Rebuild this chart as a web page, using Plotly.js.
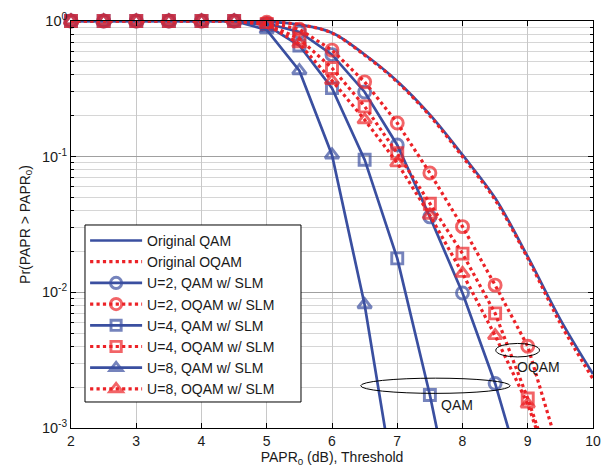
<!DOCTYPE html>
<html>
<head>
<meta charset="utf-8">
<script src="https://cdn.plot.ly/plotly-3.0.1.min.js"></script>
<style>html,body{margin:0;padding:0;background:#fff}#chart{width:606px;height:470px}</style>
</head>
<body>
<div id="chart"></div>
<script>
// ---- data ----
var xOrig = [2,2.5,3,3.5,4,4.5,5,5.5,6,6.5,7,7.5,8,8.5,9,9.5,10];
var yOrigQAM  = [1,1,1,1,1,1,0.99,0.94,0.82,0.566,0.36,0.204,0.103,0.0495,0.0183,0.0063,0.0025];
var yOrigOQAM = [1,1,1,1,1,1,0.99,0.94,0.815,0.56,0.355,0.2,0.1,0.048,0.0178,0.0059,0.0023];

var xU2QAM  = [2,2.5,3,3.5,4,4.5,5,5.5,6,6.5,7,7.5,8,8.5,9];
var yU2QAM  = [1,1,1,1,1,1,0.96,0.83,0.565,0.30,0.122,0.036,0.0099,0.00213,0.00032];
var xU2OQAM = [2,2.5,3,3.5,4,4.5,5,5.5,6,6.5,7,7.5,8,8.5,9,9.5];
var yU2OQAM = [1,1,1,1,1,1,0.98,0.87,0.61,0.356,0.177,0.0757,0.0305,0.0113,0.0040,0.00062];

var xU4QAM  = [2,2.5,3,3.5,4,4.5,5,5.5,6,6.5,7,7.5,8];
var yU4QAM  = [1,1,1,1,1,1,0.93,0.66,0.32,0.095,0.0178,0.00175,0.00012];
var xU4OQAM = [2,2.5,3,3.5,4,4.5,5,5.5,6,6.5,7,7.5,8,8.5,9,9.5];
var yU4OQAM = [1,1,1,1,1,1,0.95,0.74,0.45,0.235,0.106,0.045,0.0193,0.0070,0.00165,0.00032];

var xU8QAM  = [2,2.5,3,3.5,4,4.5,5,5.5,6,6.5,7];
var yU8QAM  = [1,1,1,1,1,1,0.86,0.43,0.103,0.0081,0.00028];
var xU8OQAM = [2,2.5,3,3.5,4,4.5,5,5.5,6,6.5,7,7.5,8,8.5,9,9.5];
var yU8OQAM = [1,1,1,1,1,1,0.94,0.68,0.364,0.187,0.090,0.037,0.0138,0.0048,0.0015,0.0003];

var seriesNames = ['Original QAM','Original OQAM','U=2, QAM w/ SLM','U=2, OQAM w/ SLM',
                   'U=4, QAM w/ SLM','U=4, OQAM w/ SLM','U=8, QAM w/ SLM','U=8, OQAM w/ SLM'];
var yTickVals = [0.001, 0.01, 0.1, 1];
var yTickText = ['10<sup>-3</sup>','10<sup>-2</sup>','10<sup>-1</sup>','10<sup>0</sup>'];
var xTickVals = [2,3,4,5,6,7,8,9,10];

// ---- styling ----
var BLUE = '#3a4fa0', RED = '#ec2227';
var YMIN = 1e-3;
var minorVals = [];
[0.001,0.01,0.1].forEach(function(d){ for (var k=2;k<=9;k++) minorVals.push(d*k); });

function sizesFor(ys, s){ return ys.map(function(v){ return v >= YMIN*0.999 ? s : 0; }); }

function mk(x, y, name, color, dashed, symbol, msize){
  var t = {
    x: x, y: y, name: name, type: 'scatter',
    mode: symbol ? 'lines+markers' : 'lines',
    cliponaxis: false,
    line: {color: color, width: dashed ? 3.2 : 2.7, dash: dashed ? 'dot' : 'solid'}
  };
  if (symbol) {
    t.marker = {symbol: symbol, size: sizesFor(y, msize), color: color,
                line: {color: color, width: 2.9}};
  }
  return t;
}

var traces = [
  Object.assign(mk(xOrig, yOrigQAM, seriesNames[0], BLUE, false, null), {cliponaxis:true}),
  Object.assign(mk(xOrig, yOrigOQAM, seriesNames[1], RED, true, null), {cliponaxis:true}),
  mk(xU2QAM, yU2QAM, seriesNames[2], BLUE, false, 'circle-open', 12),
  mk(xU2OQAM, yU2OQAM, seriesNames[3], RED, true, 'circle-open', 12),
  mk(xU4QAM, yU4QAM, seriesNames[4], BLUE, false, 'square-open', 11),
  mk(xU4OQAM, yU4OQAM, seriesNames[5], RED, true, 'square-open', 11),
  mk(xU8QAM, yU8QAM, seriesNames[6], BLUE, false, 'triangle-up-open', 12),
  mk(xU8OQAM, yU8OQAM, seriesNames[7], RED, true, 'triangle-up-open', 12)
];
traces[0].line.shape = 'spline';
traces[1].line.shape = 'spline';

var FONT = 'Liberation Sans, Arial, Helvetica, sans-serif';

var layout = {
  width: 606, height: 470,
  margin: {l: 71, r: 13, t: 21, b: 42},
  paper_bgcolor: '#fff', plot_bgcolor: '#fff',
  font: {family: FONT, size: 14, color: '#1a1a1a'},
  showlegend: true,
  legend: {
    x: 0.027, y: 0.499, xanchor: 'left', yanchor: 'top',
    bgcolor: 'rgba(255,255,255,0)', borderwidth: 0,
    font: {family: FONT, size: 14, color: '#1a1a1a'},
    itemwidth: 52, tracegroupgap: 0
  },
  xaxis: {
    range: [2, 10], tickvals: xTickVals,
    showgrid: true, gridcolor: '#c8c8c8', gridwidth: 1,
    zeroline: false, showline: true, linecolor: '#000', linewidth: 1, mirror: 'ticks',
    ticks: 'inside', ticklen: 5, tickcolor: '#000',
    tickfont: {size: 14},
    title: {text: 'PAPR<sub>0</sub> (dB), Threshold', font: {size: 14}, standoff: 4}
  },
  yaxis: {
    type: 'log', range: [-3, 0],
    tickvals: yTickVals, ticktext: yTickText,
    showgrid: true, gridcolor: '#a0a0a0', gridwidth: 1,
    zeroline: false, showline: true, linecolor: '#000', linewidth: 1, mirror: 'ticks',
    ticks: 'inside', ticklen: 5, tickcolor: '#000',
    tickfont: {size: 14.5},
    minor: {tickvals: minorVals, showgrid: true, gridcolor: '#d6d6d6', gridwidth: 1,
            ticks: 'inside', ticklen: 3, tickcolor: '#000'},
    title: {text: 'Pr(PAPR > PAPR<sub>0</sub>)', font: {size: 14}, standoff: 8}
  },
  shapes: [
    // legend box
    {type: 'rect', xref: 'paper', yref: 'paper', x0: 0.0268, x1: 0.4406, y0: 0.0639, y1: 0.4988,
     fillcolor: '#fff', line: {color: '#000', width: 1}, layer: 'above'},
    {type: 'circle', xref: 'x', yref: 'y', x0: 8.51, x1: 9.18, y0: 0.00334, y1: 0.0042,
     line: {color: '#000', width: 1}},
    {type: 'circle', xref: 'x', yref: 'y', x0: 6.44, x1: 8.73, y0: 0.0018, y1: 0.00233,
     line: {color: '#000', width: 1}}
  ],
  annotations: [
    {x: 9.16, y: -2.55, xref: 'x', yref: 'y', text: 'OQAM', showarrow: false,
     font: {size: 14, color: '#1a1a1a'}},
    {x: 7.91, y: -2.832, xref: 'x', yref: 'y', text: 'QAM', showarrow: false,
     font: {size: 14, color: '#1a1a1a'}}
  ]
};

Plotly.newPlot('chart', traces, layout, {staticPlot: true, displayModeBar: false});
</script>
</body>
</html>
